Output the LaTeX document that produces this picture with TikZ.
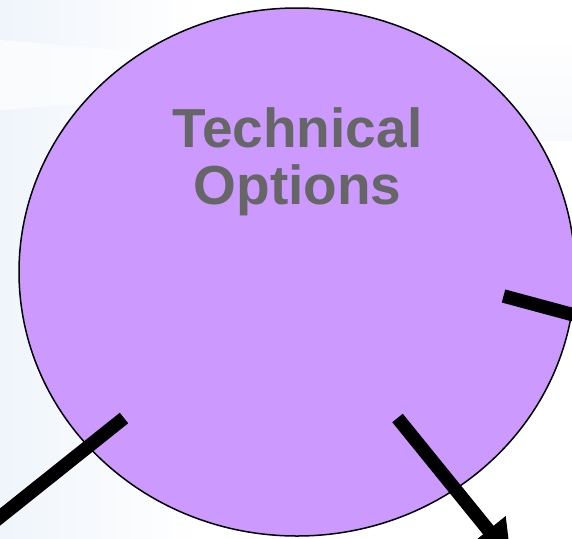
\documentclass[tikz,border=0pt]{standalone}
\usepackage{fontspec}
\setmainfont{Liberation Sans}
\usetikzlibrary{arrows.meta,shapes.geometric}
\definecolor{lav}{RGB}{204,153,255}
\definecolor{txtgray}{RGB}{102,102,102}
\definecolor{bgblue}{RGB}{240,245,251}
\begin{document}
\begin{tikzpicture}[x=1pt,y=-1pt,
  bubble/.style={ellipse,draw=black,line width=1.5pt,fill=lav,minimum width=556pt,minimum height=528pt,inner sep=0pt},
  title/.style={text=txtgray,font=\fontsize{55}{58}\selectfont\bfseries,anchor=base,inner sep=0pt},
  bar/.style={line width=13.5pt,line cap=butt,draw=black},
  arrowbar/.style={bar,-{Triangle[width=42pt,length=36pt]}}]
\useasboundingbox (0,0) rectangle (572,538);
\fill[white] (0,0) rectangle (572,538);
\shade[left color=bgblue,right color=white] (0,0) rectangle (200,538);
\fill[white,opacity=0.6] (0,40) -- (120,50) -- (260,90) -- (0,110) -- cycle;
\shade[top color=white,bottom color=bgblue,opacity=0.5] (460,40) rectangle (572,140);
\node[bubble] (bubble) at (297,272) {};
\node[title] (t1) at (297.5,147) {Technical};
\node[title] (t2) at (297.5,204) {Options};
\coordinate (a1) at (124,418);
\coordinate (a2) at (-20,533);
\coordinate (b1) at (397.5,418);
\coordinate (b2) at (511,558);
\coordinate (c1) at (503.5,296);
\coordinate (c2) at (600,322);
\draw[bar] (a1) -- (a2);
\draw[arrowbar] (b1) -- (b2);
\draw[bar] (c1) -- (c2);
\end{tikzpicture}
\end{document}
